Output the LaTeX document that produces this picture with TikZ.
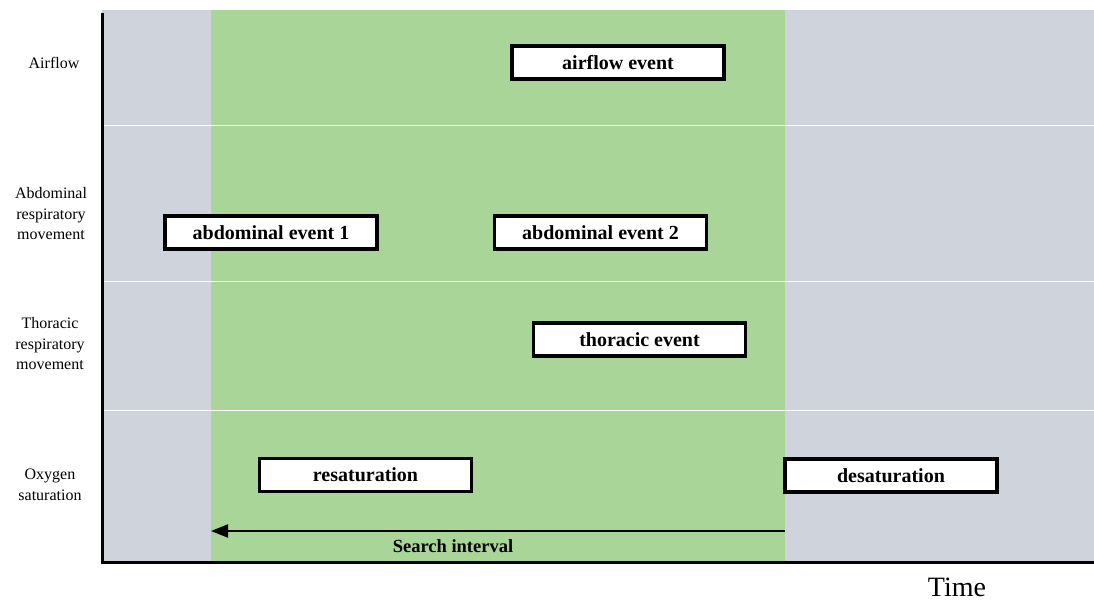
\documentclass[tikz,border=0pt]{standalone}
\usepackage{fontspec}
\setmainfont{Liberation Serif}
\usetikzlibrary{arrows.meta}
\definecolor{bandgray}{RGB}{207,212,220}
\definecolor{bandgreen}{RGB}{170,213,153}
\tikzset{
  eventbox/.style={draw=black, line width=3.1pt, fill=white, minimum width=212pt,
    minimum height=33pt, inner sep=0pt, font=\fontsize{20}{20}\selectfont\bfseries},
  rowlabel/.style={align=center, font=\fontsize{16}{20.5}\selectfont},
  divider/.style={draw=white, line width=1pt},
  axis/.style={draw=black, line width=3pt}
}
\begin{document}
\begin{tikzpicture}[x=1pt, y=-1pt]
  \useasboundingbox (0,0) rectangle (1094,602);
  % background bands
  \fill[bandgray] (102,10) rectangle (1094,562);
  \fill[bandgreen] (211,10) rectangle (785,562);
  % row dividers
  \draw[divider] (102,125) -- (1094,125);
  \draw[divider] (102,281) -- (1094,281);
  \draw[divider] (102,410) -- (1094,410);
  % axes
  \draw[axis] (102,13) -- (102,564);
  \draw[axis] (101,562) -- (1094,562);
  % row labels
  \node[rowlabel] (lairflow) at (54,63) {Airflow};
  \node[rowlabel] (labd) at (51,214) {Abdominal\\respiratory\\movement};
  \node[rowlabel] (lthor) at (50,344) {Thoracic\\respiratory\\movement};
  \node[rowlabel] (loxy) at (50,485) {Oxygen\\saturation};
  % events
  \node[eventbox] (airflow) at (618,62.5) {airflow event};
  \node[eventbox] (abd1) at (271,232.5) {abdominal event 1};
  \node[eventbox] (abd2) at (600.5,232.5) {abdominal event 2};
  \node[eventbox] (thor) at (639.5,339.5) {thoracic event};
  \node[eventbox] (resat) at (365.5,475) {resaturation};
  \node[eventbox] (desat) at (891,475.5) {desaturation};
  % search interval
  \coordinate (sstart) at (785,531);
  \coordinate (send) at (211,531);
  \draw[line width=2pt, -{Triangle[length=17pt,width=13pt]}] (sstart) -- (send);
  \node[font=\fontsize{18.5}{18.5}\selectfont\bfseries] (slabel) at (453,546) {Search interval};
  % time axis label
  \node[font=\fontsize{28}{28}\selectfont] (time) at (957,587) {Time};
\end{tikzpicture}
\end{document}
